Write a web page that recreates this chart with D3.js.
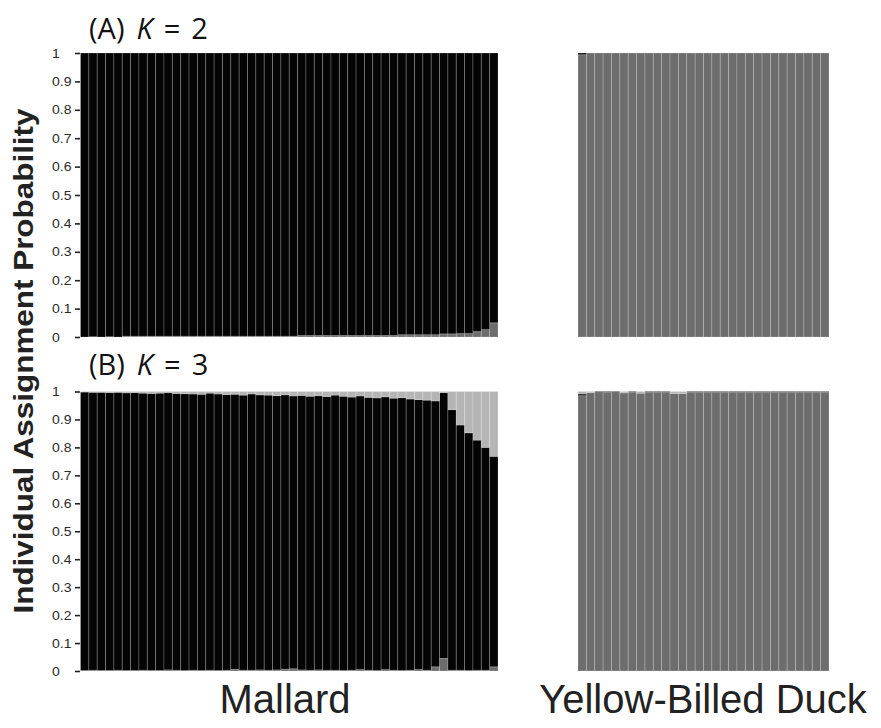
<!DOCTYPE html>
<html><head><meta charset="utf-8">
<script src="https://cdn.jsdelivr.net/npm/d3@7"></script>
<style>body{margin:0;background:#fff}</style>
</head><body><svg id="c" width="881" height="728"></svg>
<script>
// ---- data ----
const tickValues = [0,0.1,0.2,0.3,0.4,0.5,0.6,0.7,0.8,0.9,1];
const tickLabels = ["0","0.1","0.2","0.3","0.4","0.5","0.6","0.7","0.8","0.9","1"];
const groups = ["Mallard","Yellow-Billed Duck"];
const clusterColors = ["#6d6d6d","#040404","#b5b5b5"]; // YBD cluster, Mallard cluster, third cluster

// K = 2, Mallard individuals (50)
const mallardK2_ybd = [0,0.001,0,0.001,0,0.003,0.003,0.003,0.003,0.003,0.003,0.003,0.003,0.003,0.003,0.003,0.003,0.003,0.003,0.003,0.003,0.003,0.003,0.003,0.003,0.003,0.005,0.005,0.005,0.005,0.005,0.005,0.005,0.005,0.005,0.005,0.005,0.005,0.008,0.008,0.008,0.008,0.008,0.011,0.011,0.012,0.012,0.019,0.026,0.05];
const mallardK2_mal = [1,0.999,1,0.999,1,0.997,0.997,0.997,0.997,0.997,0.997,0.997,0.997,0.997,0.997,0.997,0.997,0.997,0.997,0.997,0.997,0.997,0.997,0.997,0.997,0.997,0.995,0.995,0.995,0.995,0.995,0.995,0.995,0.995,0.995,0.995,0.995,0.995,0.992,0.992,0.992,0.992,0.992,0.989,0.989,0.988,0.988,0.981,0.974,0.95];

// K = 2, Yellow-billed Duck individuals (30)
const ybdK2_ybd = [0.994,1,1,1,1,1,1,1,1,1,1,1,1,1,1,1,1,1,1,1,1,1,1,1,1,1,1,1,1,1];
const ybdK2_mal = [0.006,0,0,0,0,0,0,0,0,0,0,0,0,0,0,0,0,0,0,0,0,0,0,0,0,0,0,0,0,0];

// K = 3, Mallard individuals (50)
const mallardK3_ybd = [0.002,0.003,0.002,0.002,0.003,0.002,0.002,0.003,0.002,0.002,0.004,0.003,0.002,0.003,0.002,0.003,0.002,0.003,0.006,0.003,0.003,0.004,0.003,0.004,0.007,0.008,0.004,0.003,0.004,0.003,0.003,0.002,0.003,0.005,0.003,0.002,0.005,0.003,0.002,0.003,0.005,0.003,0.015,0.045,0.003,0.003,0.002,0.003,0.003,0.015];
const mallardK3_mal = [0.996,0.994,0.995,0.994,0.994,0.993,0.994,0.991,0.991,0.992,0.992,0.990,0.990,0.988,0.988,0.991,0.989,0.986,0.984,0.984,0.988,0.984,0.984,0.981,0.981,0.976,0.982,0.980,0.981,0.979,0.984,0.981,0.977,0.979,0.976,0.975,0.976,0.973,0.976,0.970,0.966,0.966,0.951,0.951,0.932,0.877,0.850,0.823,0.797,0.753];
const mallardK3_third = [0.002,0.003,0.003,0.004,0.003,0.005,0.004,0.006,0.007,0.006,0.004,0.007,0.008,0.009,0.010,0.006,0.009,0.011,0.010,0.013,0.009,0.012,0.013,0.015,0.012,0.016,0.014,0.017,0.015,0.018,0.013,0.017,0.020,0.016,0.021,0.023,0.019,0.024,0.022,0.027,0.029,0.031,0.034,0.004,0.065,0.120,0.148,0.174,0.200,0.232];

// K = 3, Yellow-billed Duck individuals (30)
const ybdK3_ybd = [0.985,0.996,0.996,0.997,0.996,0.995,0.997,0.994,0.997,0.997,0.997,0.993,0.993,0.997,0.997,0.997,0.997,0.997,0.997,0.997,0.997,0.997,0.997,0.997,0.997,0.997,0.997,0.997,0.997,0.997];
const ybdK3_mal = [0.006,0,0.004,0.003,0.004,0,0.003,0,0.003,0.003,0.003,0,0,0.003,0.003,0.003,0.003,0.003,0.003,0.003,0.003,0.003,0.003,0.003,0.003,0.003,0.003,0.003,0.003,0.003];
const ybdK3_third = [0.009,0.004,0,0,0,0.005,0,0.006,0,0,0,0.007,0.007,0,0,0,0,0,0,0,0,0,0,0,0,0,0,0,0,0];

// ---- drawing ----
const svg = d3.select("#c");
const panels = [
  {title:"(A)", k:"2", top:53, bottom:337, titleY:39,
   sets:[[mallardK2_ybd,mallardK2_mal],[ybdK2_ybd,ybdK2_mal]]},
  {title:"(B)", k:"3", top:391.5, bottom:671, titleY:375,
   sets:[[mallardK3_ybd,mallardK3_mal,mallardK3_third],[ybdK3_ybd,ybdK3_mal,ybdK3_third]]}
];
const groupRanges = [[80.5,498],[578,829]];

panels.forEach(p => {
  const y = d3.scaleLinear().domain([0,1]).range([p.bottom,p.top]);
  p.sets.forEach((arrs, gi) => {
    const n = arrs[0].length;
    const x = d3.scaleBand().domain(d3.range(n)).range(groupRanges[gi]).padding(0);
    const rows = d3.range(n).map(i => { const o = {i}; arrs.forEach((a,k)=>o["c"+k]=a[i]); return o; });
    const keys = arrs.map((a,k)=>"c"+k);
    const stack = d3.stack().keys(keys)(rows);
    const g = svg.append("g");
    g.selectAll("g").data(stack).join("g")
      .attr("fill", (d,k)=>clusterColors[k])
      .selectAll("rect").data(d=>d).join("rect")
      .attr("x", d=>x(d.data.i))
      .attr("width", x.bandwidth())
      .attr("y", d=>y(d[1]))
      .attr("height", d=>Math.max(0, y(d[0])-y(d[1])))
      .attr("stroke","rgba(255,255,255,0.22)")
      .attr("stroke-width",0.9);
  });
  // y axis
  const ax = svg.append("g").attr("transform","translate(80,0)")
    .call(d3.axisLeft(y).tickValues(tickValues).tickFormat((d,i)=>tickLabels[i]).tickSize(5).tickPadding(0));
  ax.select(".domain").remove();
  ax.selectAll(".tick line").attr("stroke","#222").attr("stroke-width",1.6);
  ax.selectAll(".tick text")
    .attr("text-anchor","start").attr("x",0)
    .attr("transform","translate(-28,0) scale(1.12,1)")
    .attr("fill","#2a2a2a")
    .style("font-family","Liberation Sans, Arial, sans-serif").style("font-size","12.5px");
  // title
  const t = svg.append("text").attr("x",89).attr("y",p.titleY)
    .style("font-family","Open Sans, sans-serif").style("font-size","29px").attr("fill","#111");
  t.append("tspan").text(p.title);
  t.append("tspan").attr("dx",12).style("font-style","italic").text("K");
  t.append("tspan").attr("dx",11).text("=");
  t.append("tspan").attr("dx",11).text(p.k);
});

// y label
svg.append("text").attr("transform","translate(33,361) rotate(-90)")
  .attr("text-anchor","middle")
  .style("font-family","Liberation Sans, Arial, sans-serif").style("font-weight","bold").style("font-size","27px")
  .attr("textLength",505).attr("lengthAdjust","spacingAndGlyphs")
  .attr("fill","#222")
  .text("Individual Assignment Probability");

// group labels
const gx = d3.scalePoint().domain(groups).range([285,703]);
svg.selectAll(".glab").data(groups).join("text")
  .attr("x", d=>gx(d)).attr("y",713).attr("text-anchor","middle")
  .style("font-family","Liberation Sans, Arial, sans-serif").style("font-size","40px").attr("fill","#222")
  .text(d=>d);
</script></body></html>
